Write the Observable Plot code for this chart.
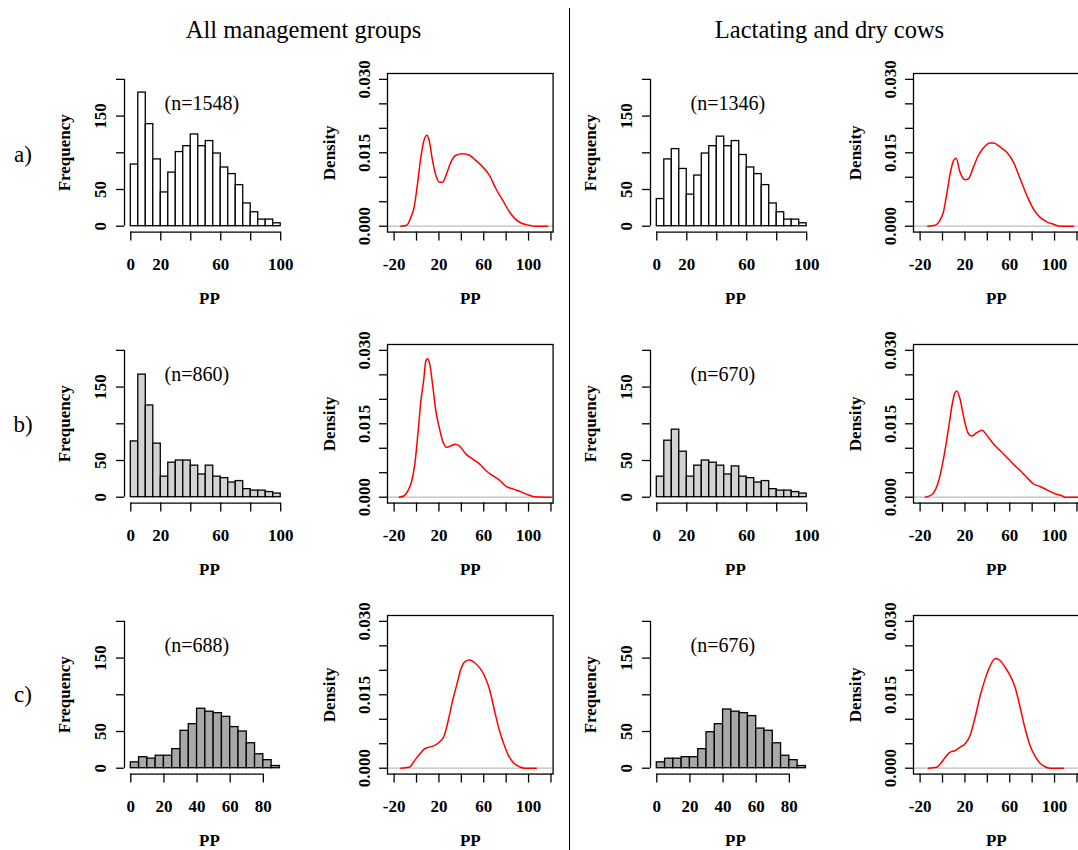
<!DOCTYPE html>
<html><head><meta charset="utf-8">
<script src="https://cdn.jsdelivr.net/npm/d3@7"></script>
<script src="https://cdn.jsdelivr.net/npm/@observablehq/plot@0.6"></script>
<style>
body{margin:0;background:#fff;}
#root{position:relative;width:1078px;height:850px;overflow:hidden;font-family:"Liberation Serif","Times New Roman",serif;color:#000;}
.abs{position:absolute;}
.lab{position:absolute;transform:translate(-50%,-50%);white-space:nowrap;}
</style></head><body><div id="root"></div>
<script>
// ---------- data ----------
const groupTitles = ["All management groups", "Lactating and dry cows"];
const rowLabels = ["a)", "b)", "c)"];
const nLabels = [["(n=1548)", "(n=1346)"], ["(n=860)", "(n=670)"], ["(n=688)", "(n=676)"]];

const binStartsAB = [0,5,10,15,20,25,30,35,40,45,50,55,60,65,70,75,80,85,90,95,100];
const binStartsC  = [0,5,10,15,20,25,30,35,40,45,50,55,60,65,70,75,80,85,90];

const histAllA = [84,182,139,91,46,73,101,109,125,109,116,99,80,71,56,31,19,9,9,4,0];
const histLacA = [37,91,105,78,43,69,99,109,122,109,116,97,80,71,56,31,19,9,9,4,0];
const histAllB = [76,167,125,73,28,47,50,50,43,31,43,28,26,20,22,11,9,9,7,5,0];
const histLacB = [28,77,92,62,28,43,50,47,43,31,42,28,26,20,22,11,9,9,7,5,0];
const histAllC = [8,15,13,17,17,26,51,60,81,77,75,70,56,50,34,19,11,3,0];
const histLacC = [8,13,13,15,15,26,49,60,80,77,75,71,54,51,34,17,11,3,0];

const densAllAx = [-14,-8.7,-5.1,-2.1,0.9,3.9,6.9,9.3,11.3,14.3,17.3,20.3,23.3,26.3,30.7,35.2,41.2,47.2,53.1,59.1,65.1,71,77,83,89,94.9,100.9,105.4,117];
const densAllAy = [0,0.0002,0.0018,0.0039,0.0087,0.0141,0.0177,0.0186,0.0175,0.0134,0.0104,0.0090,0.0090,0.0104,0.0131,0.0145,0.0148,0.0145,0.0134,0.0121,0.0104,0.0076,0.0053,0.0029,0.0013,0.0005,0.0002,0,0];
const densLacAx = [-13.2,-6.6,-2.1,0.8,3.8,6.8,9.8,12.1,15.7,20.2,23.2,27.6,32.1,36.5,42.5,45.5,51.4,57.4,63.3,69.3,75.2,81.2,87.1,93.1,99,105,116.9];
const densLacAy = [0,0.0002,0.0013,0.0029,0.0066,0.0107,0.0134,0.0139,0.0110,0.0095,0.0097,0.0121,0.0145,0.0160,0.0170,0.0170,0.0162,0.0151,0.0131,0.0097,0.0063,0.0035,0.0018,0.0009,0.0004,0,0];
const densAllBx = [-15.5,-11,-7.5,-4.5,-1.5,1.5,3.9,6.3,8.4,9.9,11.9,14.3,17.3,20.3,23.3,27.2,30.7,34.3,38.2,44.2,50.1,56.1,62.1,68.1,74,80,86,93.4,99.4,105.4,120.3];
const densAllBy = [0,0.0003,0.0014,0.0031,0.0068,0.0136,0.0197,0.0237,0.0279,0.0283,0.0271,0.0231,0.0176,0.0142,0.0115,0.0102,0.0105,0.0108,0.0105,0.0088,0.0078,0.0068,0.0054,0.0044,0.0035,0.0022,0.0017,0.0011,0.0005,0.0001,0];
const densLacBx = [-15.5,-9.6,-6,-3,0,2.9,5.9,8.9,11.3,12.7,15.7,18.7,22.6,26.1,30.6,35.1,41,47,52.9,58.9,64.8,70.8,76.7,81.2,87.1,93.1,100.5,106.5,109.5,121];
const densLacBy = [0,0.0005,0.0017,0.0037,0.0068,0.0105,0.0149,0.0193,0.0214,0.0217,0.0200,0.0166,0.0132,0.0125,0.0132,0.0137,0.0122,0.0105,0.0092,0.0078,0.0064,0.0051,0.0037,0.0027,0.0022,0.0015,0.0007,0.0003,0,0];
const densAllCx = [-14,-6.6,-3.6,-0.6,3,6.9,11.3,15.8,20.3,24.8,28.7,32.2,36.1,39.7,43.3,47.2,51.6,56.1,60.6,65.1,69.6,74,78.5,83,87.5,91.9,96.4,106.9];
const densAllCy = [0,0.0002,0.0009,0.0019,0.0029,0.0039,0.0043,0.0046,0.0053,0.0067,0.0101,0.0138,0.0172,0.0203,0.0218,0.0221,0.0216,0.0206,0.0189,0.0162,0.0118,0.0077,0.0046,0.0022,0.0009,0.0003,0,0];
const densLacCx = [-12.6,-5.1,-1.5,2.3,6.8,11.3,15.7,20.2,24.6,29.1,33.6,38,42.5,47,51.4,55.9,60.4,64.8,69.3,73.8,78.2,82.7,87.1,91.6,96.1,108];
const densLacCy = [0,0.0002,0.001,0.0022,0.0033,0.0036,0.0043,0.005,0.0067,0.0104,0.0148,0.0182,0.0209,0.0224,0.022,0.0206,0.0189,0.0165,0.0124,0.008,0.0046,0.0024,0.001,0.0003,0,0];

const histTicksAB = [0,20,40,60,80,100];
const histLabelsAB = [0,20,60,100];
const histTicksC = [0,20,40,60,80];
const histLabelsC = [0,20,40,60,80];
const freqTicks = [0,50,100,150,200];
const freqLabels = [0,50,150];
const densXTicks = [-20,0,20,40,60,80,100,120];
const densXLabels = [-20,20,60,100];
const densYTicks = [0,0.005,0.01,0.015,0.02,0.025,0.03];
const densYLabels = [0,0.015,0.03];
const rowFills = ["#ffffff", "#d3d3d3", "#a8a8a8"];

// ---------- layout ----------
const colLeft = [123.7, 386.7, 650.3, 912.6];
const rowTop = [73.2, 344, 615];
const HW = 170, DW = 165.6, FH = 158.6;
const ML = 80, MR = 20, MT = 30, MB = 80;
const FONT = "Liberation Serif, Times New Roman, serif";
const svgStyle = {background: "transparent", overflow: "visible", fontFamily: FONT, color: "black"};
const tickFont = {fontSize: 17, fontWeight: "bold", fontFamily: FONT, fill: "black", textAnchor: "middle", lineAnchor: "middle"};

function histPlot(counts, starts, xMax, xTicks, xLabs, fill, nText) {
  const data = starts.map((s, i) => ({x1: s, x2: s + 5, c: counts[i]}));
  const pad = 0.04 * xMax;
  return Plot.plot({
    width: ML + HW + MR, height: MT + FH + MB,
    marginLeft: ML, marginRight: MR, marginTop: MT, marginBottom: MB,
    x: {domain: [-pad, xMax + pad]},
    y: {domain: [-8, 208]},
    style: svgStyle,
    marks: [
      Plot.rect(data, {x1: "x1", x2: "x2", y1: 0, y2: "c", fill, stroke: "black", strokeWidth: 1.3}),
      Plot.ruleX([-pad], {y1: freqTicks[0], y2: freqTicks[freqTicks.length - 1], stroke: "black", strokeWidth: 1.3}),
      Plot.ruleY([-8], {x1: xTicks[0], x2: xTicks[xTicks.length - 1], stroke: "black", strokeWidth: 1.3}),
      Plot.axisX({ticks: xTicks, tickSize: 9, tickFormat: () => "", label: null, strokeWidth: 1.3}),
      Plot.axisY({ticks: freqTicks, tickSize: 8, tickFormat: () => "", label: null, strokeWidth: 1.3}),
      Plot.text(xLabs, {x: d => d, text: d => String(d), frameAnchor: "bottom", dy: 32, ...tickFont}),
      Plot.text(freqLabels, {y: d => d, text: d => String(d), frameAnchor: "left", dx: -24, rotate: -90, ...tickFont}),
      Plot.text(["Frequency"], {text: d => d, frameAnchor: "left", dx: -60, rotate: -90, ...tickFont}),
      Plot.text(["PP"], {text: d => d, frameAnchor: "bottom", dy: 66, ...tickFont}),
      Plot.text([nText], {text: d => d, frameAnchor: "top-left", dx: 40, dy: 30, textAnchor: "start", lineAnchor: "middle", fontSize: 20, fontFamily: FONT, fill: "black"})
    ]
  });
}

function densPlot(xs, ys) {
  const data = xs.map((x, i) => ({x, y: ys[i]}));
  return Plot.plot({
    width: ML + DW + MR, height: MT + FH + MB,
    marginLeft: ML, marginRight: MR, marginTop: MT, marginBottom: MB,
    x: {domain: [-25.9, 121.9]},
    y: {domain: [-0.0012, 0.0312]},
    style: svgStyle,
    marks: [
      Plot.ruleY([0], {stroke: "#bebebe", strokeWidth: 1.3}),
      Plot.line(data, {x: "x", y: "y", stroke: "red", strokeWidth: 1.5, curve: "monotone-x"}),
      Plot.frame({stroke: "black", strokeWidth: 1.3}),
      Plot.axisX({ticks: densXTicks, tickSize: 9, tickFormat: () => "", label: null, strokeWidth: 1.3}),
      Plot.axisY({ticks: densYTicks, tickSize: 8, tickFormat: () => "", label: null, strokeWidth: 1.3}),
      Plot.text(densXLabels, {x: d => d, text: d => String(d), frameAnchor: "bottom", dy: 32, ...tickFont}),
      Plot.text(densYLabels, {y: d => d, text: d => d.toFixed(3), frameAnchor: "left", dx: -23, rotate: -90, ...tickFont}),
      Plot.text(["Density"], {text: d => d, frameAnchor: "left", dx: -58, rotate: -90, ...tickFont}),
      Plot.text(["PP"], {text: d => d, frameAnchor: "bottom", dy: 66, ...tickFont})
    ]
  });
}

const root = document.getElementById("root");
function place(el, left, top) {
  el.style.position = "absolute";
  el.style.left = left + "px";
  el.style.top = top + "px";
  el.style.maxWidth = "none";
  root.appendChild(el);
}

const hists = [[histAllA, histLacA], [histAllB, histLacB], [histAllC, histLacC]];
const dens = [[[densAllAx, densAllAy], [densLacAx, densLacAy]],
              [[densAllBx, densAllBy], [densLacBx, densLacBy]],
              [[densAllCx, densAllCy], [densLacCx, densLacCy]]];

for (let r = 0; r < 3; r++) {
  const isC = r === 2;
  for (let g = 0; g < 2; g++) {
    const h = histPlot(hists[r][g], isC ? binStartsC : binStartsAB, isC ? 95 : 105,
      isC ? histTicksC : histTicksAB, isC ? histLabelsC : histLabelsAB, rowFills[r], nLabels[r][g]);
    place(h, colLeft[2 * g] - ML, rowTop[r] - MT);
    const d = densPlot(dens[r][g][0], dens[r][g][1]);
    place(d, colLeft[2 * g + 1] - ML, rowTop[r] - MT);
  }
}

// titles, row labels, divider
const titleX = [303.5, 829.5];
groupTitles.forEach((t, i) => {
  const el = document.createElement("div");
  el.className = "lab";
  el.textContent = t;
  el.style.left = titleX[i] + "px";
  el.style.top = "30px";
  el.style.fontSize = "24.5px";
  root.appendChild(el);
});
const rowY = [155, 425, 695];
rowLabels.forEach((t, i) => {
  const el = document.createElement("div");
  el.className = "lab";
  el.textContent = t;
  el.style.left = "23px";
  el.style.top = rowY[i] + "px";
  el.style.fontSize = "23px";
  root.appendChild(el);
});
const line = document.createElement("div");
line.className = "abs";
line.style.left = "568.5px";
line.style.top = "8px";
line.style.width = "1.5px";
line.style.height = "842px";
line.style.background = "black";
root.appendChild(line);
</script>
</body></html>
